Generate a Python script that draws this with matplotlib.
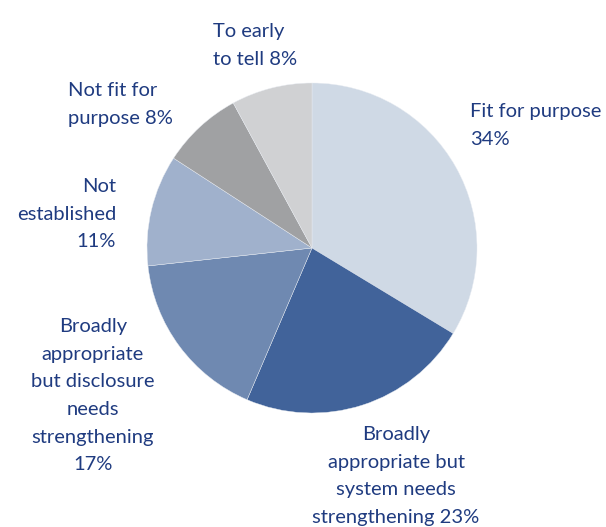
import matplotlib
matplotlib.use("Agg")
import matplotlib.pyplot as plt

categories = ["Fit for purpose", "Broadly appropriate but system needs strengthening",
              "Broadly appropriate but disclosure needs strengthening", "Not established",
              "Not fit for purpose", "To early to tell"]
shares = [34, 23, 17, 11, 8, 8]
colors = ["#cfd9e5", "#41639a", "#6f89b1", "#a0b1cc", "#a0a1a3", "#d0d1d3"]

# label text, wrapped as in the original
labels = ["Fit for purpose\n34%",
          "Broadly\nappropriate but\nsystem needs\nstrengthening 23%",
          "Broadly\nappropriate\nbut disclosure\nneeds\nstrengthening\n17%",
          "Not\nestablished\n11%",
          "Not fit for\npurpose 8%",
          "To early\nto tell 8%"]

W, H = 606, 527
fig = plt.figure(figsize=(W / 100, H / 100), dpi=100)
fig.patch.set_facecolor("white")

# pie centre (312, 248) px, radius 165 px
cx, cy, r = 312, 248, 165
ax = fig.add_axes([(cx - r) / W, (H - cy - r) / H, 2 * r / W, 2 * r / H])
ax.pie(shares, colors=colors, startangle=90, counterclock=False,
       wedgeprops=dict(linewidth=0.3, edgecolor="#e8ecf2"))
ax.set_xlim(-1, 1)
ax.set_ylim(-1, 1)
ax.set_aspect("equal")
ax.axis("off")

txt_color = "#1f3b80"
fs = 14.5
# (x px, y px of first line, alignment)
label_pos = [(470, 110, "left"), (396, 433, "center"), (93, 325, "center"),
             (116, 185, "right"), (68, 89, "left"), (213, 30, "left")]
for lab, (x, y, ha) in zip(labels, label_pos):
    fig.text(x / W, 1 - (y - 7) / H, lab, ha=ha, va="top", multialignment=ha,
             fontsize=fs, color=txt_color, family="Lato", linespacing=1.76)

fig.savefig("out.png", dpi=100, facecolor="white")
